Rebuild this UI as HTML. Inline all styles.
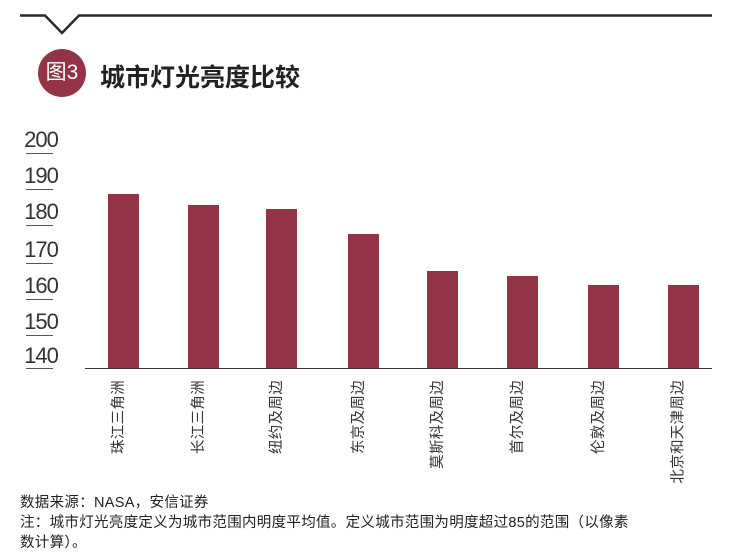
<!DOCTYPE html>
<html><head><meta charset="utf-8"><style>
body{margin:0;width:747px;height:557px;background:#fff;position:relative;overflow:hidden;font-family:"Liberation Sans","Noto Sans CJK SC",sans-serif;color:#222}
.a{position:absolute}
.tk{position:absolute;left:26px;width:27px;height:0;border-top:1.5px solid #555}
.tl{position:absolute;left:18px;width:46px;text-align:center;font-size:22px;color:#333;font-weight:300;letter-spacing:-1px}
.bar{position:absolute;width:31px;background:#933446;bottom:189px}
.lb{position:absolute;top:380px;font-size:14.5px;letter-spacing:0.3px;color:#333;white-space:nowrap;transform:rotate(-90deg);transform-origin:100% 0;text-align:right}
.ft{position:absolute;left:20px;font-size:14.5px;letter-spacing:0.3px;color:#222}
</style></head><body>
<svg class="a" style="left:0;top:0" width="747" height="40"><polyline points="20,15.5 45,15.5 62,33 79,15.5 712,15.5" fill="none" stroke="#2a2a2a" stroke-width="2.5"/></svg>
<div class="a" style="left:38px;top:49px;width:48px;height:48px;border-radius:50%;background:#933446;color:#fff;font-size:21px;line-height:48px;text-align:center">图3</div>
<div class="a" style="left:100px;top:58px;font-size:25px;font-weight:bold;color:#222">城市灯光亮度比较</div>
<div class="tl" style="top:127px">200</div><div class="tk" style="top:153px"></div>
<div class="tl" style="top:163px">190</div><div class="tk" style="top:189px"></div>
<div class="tl" style="top:199px">180</div><div class="tk" style="top:225px"></div>
<div class="tl" style="top:237px">170</div><div class="tk" style="top:263px"></div>
<div class="tl" style="top:273px">160</div><div class="tk" style="top:299px"></div>
<div class="tl" style="top:309px">150</div><div class="tk" style="top:335px"></div>
<div class="tl" style="top:343px">140</div><div class="tk" style="top:368px"></div>
<div class="a" style="left:85px;top:368px;width:627px;border-top:1.5px solid #333"></div>
<div class="bar" style="left:108px;top:194px"></div>
<div class="bar" style="left:188px;top:205px"></div>
<div class="bar" style="left:266px;top:209px"></div>
<div class="bar" style="left:348px;top:234px"></div>
<div class="bar" style="left:427px;top:271px"></div>
<div class="bar" style="left:507px;top:276px"></div>
<div class="bar" style="left:588px;top:285px"></div>
<div class="bar" style="left:668px;top:285px"></div>
<div class="lb" style="right:640px">珠江三角洲</div>
<div class="lb" style="right:560px">长江三角洲</div>
<div class="lb" style="right:482px">纽约及周边</div>
<div class="lb" style="right:400px">东京及周边</div>
<div class="lb" style="right:321px">莫斯科及周边</div>
<div class="lb" style="right:241px">首尔及周边</div>
<div class="lb" style="right:160px">伦敦及周边</div>
<div class="lb" style="right:80px">北京和天津周边</div>
<div class="ft" style="top:491px">数据来源：NASA，安信证券</div>
<div class="ft" style="top:511px">注：城市灯光亮度定义为城市范围内明度平均值。定义城市范围为明度超过85的范围（以像素</div>
<div class="ft" style="top:531px">数计算）。</div>
</body></html>
